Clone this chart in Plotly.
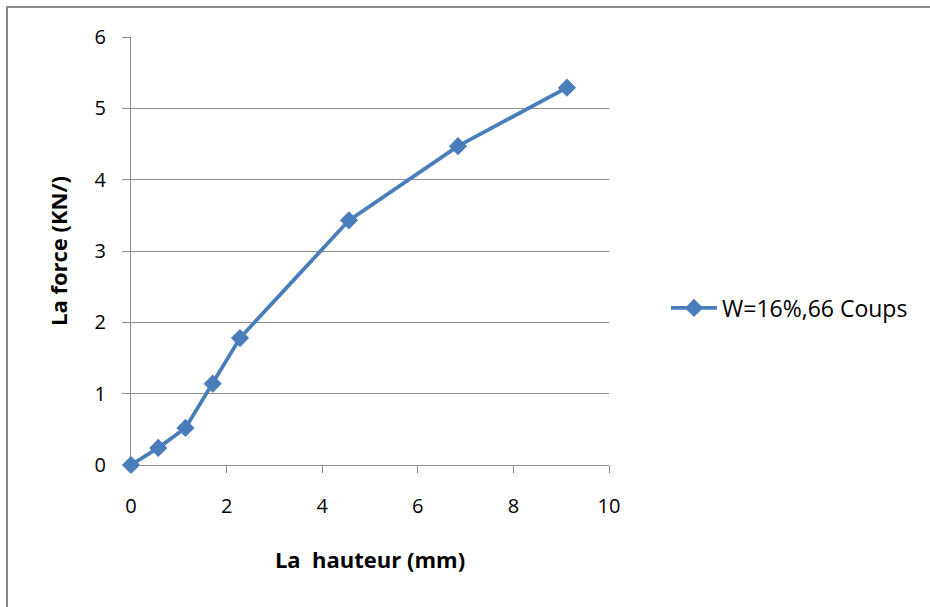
import plotly.graph_objects as go

# Data
hauteur_mm = [0, 0.57, 1.14, 1.71, 2.28, 4.56, 6.84, 9.12]
force_kn = [0, 0.24, 0.52, 1.14, 1.78, 3.43, 4.47, 5.29]
series_name = "W=16%,66 Coups"
x_ticks = [0, 2, 4, 6, 8, 10]
y_ticks = [0, 1, 2, 3, 4, 5, 6]

blue = "#4A7EBB"
grid = "#8C8C8C"
font_family = "Open Sans, Liberation Sans, sans-serif"

fig = go.Figure()
fig.add_trace(go.Scatter(
    x=hauteur_mm, y=force_kn, name=series_name, mode="lines+markers",
    line=dict(color=blue, width=3.8),
    marker=dict(symbol="diamond", size=14, color=blue),
    cliponaxis=False,
))

L, R, T, B = 131, 609, 37, 465
W, H = 930, 607
pw, ph = R - L, B - T

fig.update_layout(
    width=W, height=H,
    margin=dict(l=L, r=W - R, t=T, b=H - B),
    paper_bgcolor="white", plot_bgcolor="white",
    font=dict(family=font_family, color="#000000"),
    showlegend=True,
    legend=dict(x=(666 - L) / pw, y=(B - 308) / ph, xanchor="left", yanchor="middle",
                itemwidth=46,
                font=dict(size=23, color="#000000"), bgcolor="rgba(0,0,0,0)"),
    xaxis=dict(range=[0, 10], tickvals=x_ticks, showgrid=False, zeroline=False,
               showline=True, linecolor=grid, linewidth=1, layer="below traces",
               ticks="outside", ticklen=7, tickcolor=grid,
               ticklabelstandoff=16,
               tickfont=dict(size=20), fixedrange=True,
               title=dict(text="La\u00a0 hauteur (mm)", font=dict(size=22, family=font_family), standoff=34)),
    yaxis=dict(range=[0, 6], tickvals=y_ticks, showgrid=True, gridcolor=grid, gridwidth=1,
               zeroline=False, showline=True, linecolor=grid, linewidth=1, layer="below traces",
               ticks="outside", ticklen=8, tickcolor=grid,
               ticklabelstandoff=12,
               tickfont=dict(size=20), fixedrange=True,
               title=dict(text="La force (KN/)", font=dict(size=22, family=font_family), standoff=20)),
    shapes=[dict(type="rect", xref="paper", yref="paper",
                 x0=(7 - L) / pw, x1=(940 - L) / pw,
                 y0=(B - 620) / ph, y1=(B - 7) / ph,
                 line=dict(color="#888888", width=2), fillcolor="rgba(0,0,0,0)", layer="below")],
)

fig.update_xaxes(title_font_weight="bold")
fig.update_yaxes(title_font_weight="bold")

fig.write_html("out.html", config={"displayModeBar": False},
               post_script="document.body.style.margin='0';")
